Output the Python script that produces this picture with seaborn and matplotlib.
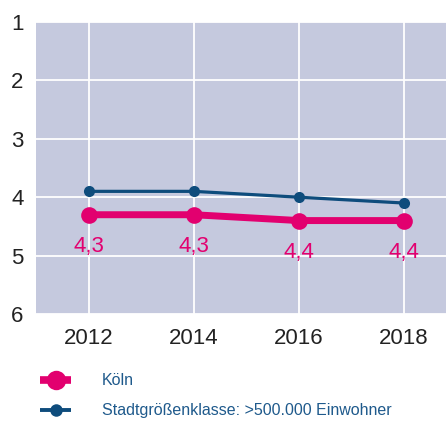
import pandas as pd
import seaborn as sns
import matplotlib.pyplot as plt
from matplotlib.lines import Line2D

years = [2012, 2014, 2016, 2018]
koeln = [4.3, 4.3, 4.4, 4.4]
stadtklasse = [3.9, 3.9, 4.0, 4.1]
koeln_labels = ["4,3", "4,3", "4,4", "4,4"]
series_names = ["Köln", "Stadtgrößenklasse: >500.000 Einwohner"]

pink = "#e2006f"
blue = "#0e4c7c"

df = pd.DataFrame({"Jahr": years, "Köln": koeln, "Klasse": stadtklasse})

sns.set_style("white")
plt.rcParams["font.family"] = ["Liberation Sans", "DejaVu Sans"]

fig = plt.figure(figsize=(4.46, 4.21), dpi=100)
ax = fig.add_axes([0.081, 0.254, 0.919, 0.694])
ax.set_facecolor("#c5c9de")

sns.lineplot(data=df, x="Jahr", y="Klasse", ax=ax, color=blue, linewidth=2.3,
             marker="o", markersize=8, markeredgewidth=0, zorder=3)
sns.lineplot(data=df, x="Jahr", y="Köln", ax=ax, color=pink, linewidth=5,
             marker="o", markersize=12, markeredgewidth=0, zorder=4)

for x, y, lab in zip(years, koeln, koeln_labels):
    ax.annotate(lab, (x, y), xytext=(0, -23), textcoords="offset points",
                ha="center", va="center", color=pink, fontsize=16)

ax.set_xlim(2011.0, 2018.8)
ax.set_ylim(6, 1)
ax.set_xticks(years)
ax.set_yticks([1, 2, 3, 4, 5, 6])
ax.grid(True, color="white", linewidth=1.3)
ax.set_axisbelow(True)
for s in ax.spines.values():
    s.set_visible(False)
ax.tick_params(axis="both", length=0, labelsize=16, colors="#222222")
ax.tick_params(axis="x", pad=10)
ax.tick_params(axis="y", pad=9)
ax.set_xlabel("")
ax.set_ylabel("")

handles = [
    Line2D([], [], color=pink, linewidth=5.5, marker="o", markersize=14,
           markeredgewidth=0, solid_capstyle="butt"),
    Line2D([], [], color=blue, linewidth=2.8, marker="o", markersize=9,
           markeredgewidth=0, solid_capstyle="butt"),
]
leg = fig.legend(handles, series_names, loc="lower left", bbox_to_anchor=(0.058, -0.028),
                 frameon=False, fontsize=11.5, handlelength=1.95, handletextpad=1.9,
                 labelspacing=0.95)
for t in leg.get_texts():
    t.set_color("#1f5a8c")

fig.savefig("out.png", dpi=100)
